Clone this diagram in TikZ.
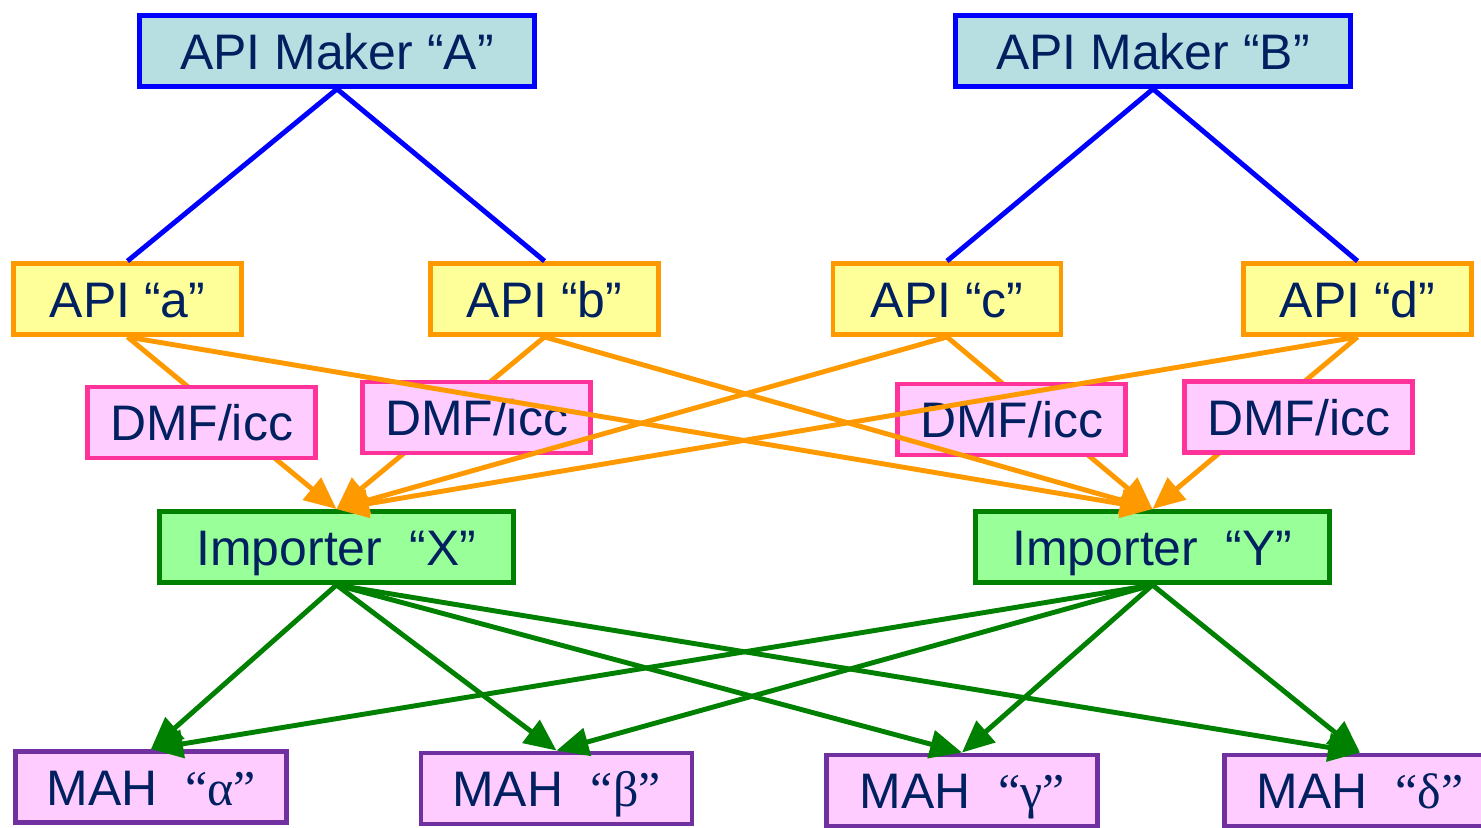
\documentclass[tikz,border=0pt]{standalone}
\usepackage{fontspec}
\setmainfont{Liberation Sans}
\newfontfamily\serifgreek{Liberation Serif}
\usepackage{tikz}
\usetikzlibrary{shapes,arrows.meta,positioning}

\definecolor{InkNavy}{RGB}{0,32,96}
\definecolor{MakerFill}{RGB}{183,222,225}
\definecolor{ApiFill}{RGB}{255,255,153}
\definecolor{ApiLine}{RGB}{255,153,0}
\definecolor{DmfFill}{RGB}{255,204,255}
\definecolor{DmfLine}{RGB}{255,51,153}
\definecolor{ImpFill}{RGB}{153,255,153}
\definecolor{ImpLine}{RGB}{0,128,0}
\definecolor{MahLine}{RGB}{112,48,160}

\begin{document}
\begin{tikzpicture}
			\tikzstyle{Box}		= [rectangle, draw, line width=1.4pt, minimum height=7.1mm, inner sep=0pt, text=InkNavy, font=\fontsize{14.2}{17}\selectfont, text height=3.6mm, text depth=0pt]
			\tikzstyle{Maker}	= [Box, fill=MakerFill, draw=blue, minimum width=39.5mm]
			\tikzstyle{API}		= [Box, fill=ApiFill, draw=ApiLine, minimum width=22.8mm]
			\tikzstyle{DMF}		= [Box, fill=DmfFill, draw=DmfLine, minimum width=22.8mm]
			\tikzstyle{Importer}	= [Box, fill=ImpFill, draw=ImpLine, minimum width=35.4mm]
			\tikzstyle{MAH}		= [Box, fill=DmfFill, draw=MahLine, minimum width=27.1mm]
			\tikzstyle{Owns}	= [blue, line width=1.4pt]
			\tikzstyle{Feed}	= [ApiLine, line width=1.4pt, -{Triangle[length=3.2mm, width=2.8mm]}]
			\tikzstyle{Ship}	= [ImpLine, line width=1.4pt, -{Triangle[length=3.2mm, width=2.8mm]}]

			\useasboundingbox (0, 0) rectangle (14.81, 8.27);

			\node (makerA) at (3.37, 7.76) [Maker] {API Maker “A”};
			\node (makerB) at (11.53, 7.76) [Maker] {API Maker “B”};

			\node (apiA) at (1.275, 5.28) [API] {API “a”};
			\node (apiB) at (5.445, 5.28) [API] {API “b”};
			\node (apiC) at (9.47, 5.28) [API] {API “c”};
			\node (apiD) at (13.575, 5.28) [API] {API “d”};

			\node (impX) at (3.365, 2.80) [Importer] {Importer~~“X”};
			\node (impY) at (11.525, 2.80) [Importer] {Importer~~“Y”};

			\node (mahA) at (1.51, 0.40) [MAH] {MAH~~{\serifgreek “α”}};
			\node (mahB) at (5.565, 0.385) [MAH] {MAH~~{\serifgreek “β”}};
			\node (mahC) at (9.62, 0.365) [MAH] {MAH~~{\serifgreek “γ”}};
			\node (mahD) at (13.60, 0.365) [MAH] {MAH~~{\serifgreek “δ”}};

			\draw [Owns] (makerA.south) to (apiA.north);
			\draw [Owns] (makerA.south) to (apiB.north);
			\draw [Owns] (makerB.south) to (apiC.north);
			\draw [Owns] (makerB.south) to (apiD.north);

			\draw [Feed] (apiA.south) to (impX.north);
			\draw [Feed] (apiB.south) to (impX.north);
			\draw [Feed] (apiC.south) to (impY.north);
			\draw [Feed] (apiD.south) to (impY.north);

			\node (dmfA) at (2.015, 4.045) [DMF] {DMF/icc};
			\node (dmfB) at (4.765, 4.095) [DMF] {DMF/icc};
			\node (dmfC) at (10.115, 4.075) [DMF] {DMF/icc};
			\node (dmfD) at (12.985, 4.10) [DMF] {DMF/icc};

			\draw [Feed] (apiA.south) to (impY.north);
			\draw [Feed] (apiB.south) to (impY.north);
			\draw [Feed] (apiC.south) to (impX.north);
			\draw [Feed] (apiD.south) to (impX.north);

			\draw [Ship] (impX.south) to (mahA.north);
			\draw [Ship] (impX.south) to (mahB.north);
			\draw [Ship] (impX.south) to (mahC.north);
			\draw [Ship] (impX.south) to (mahD.north);
			\draw [Ship] (impY.south) to (mahA.north);
			\draw [Ship] (impY.south) to (mahB.north);
			\draw [Ship] (impY.south) to (mahC.north);
			\draw [Ship] (impY.south) to (mahD.north);
		\end{tikzpicture}
\end{document}
